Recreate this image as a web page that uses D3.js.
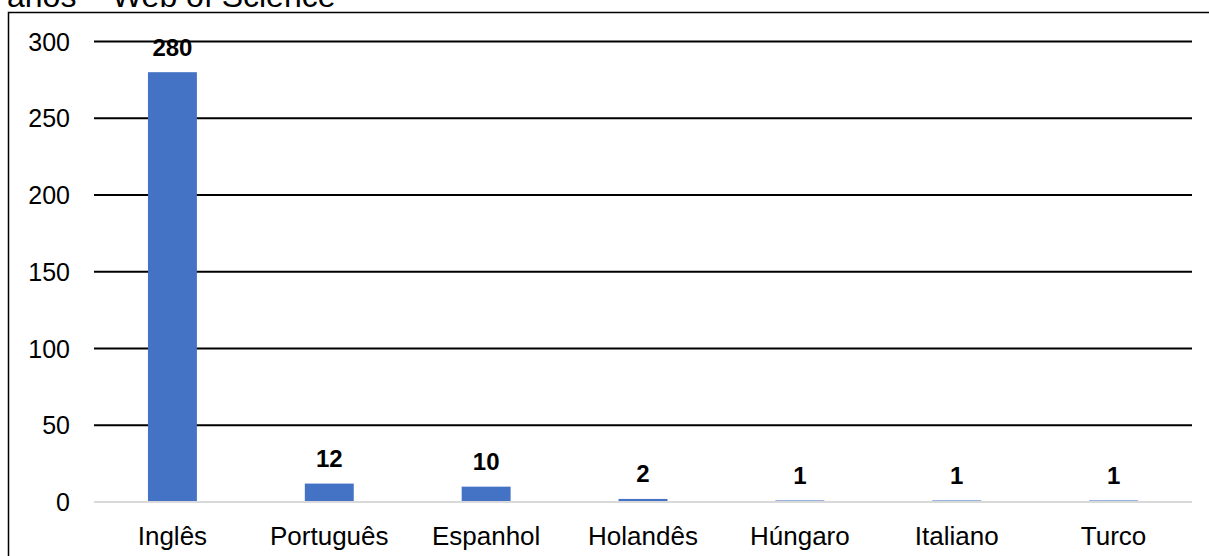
<!DOCTYPE html>
<html>
<head>
<meta charset="utf-8">
<script src="https://cdn.jsdelivr.net/npm/d3@7"></script>
<style>
  html, body { margin: 0; padding: 0; background: #fff; }
  svg { display: block; font-family: Arial, "Liberation Sans", sans-serif; }
</style>
</head>
<body>
<svg id="chart" width="1209" height="556"></svg>
<script>
const titleText = "anos – Web of Science";
const categories = ["Inglês", "Português", "Espanhol", "Holandês", "Húngaro", "Italiano", "Turco"];
const values = [280, 12, 10, 2, 1, 1, 1];
const yTicks = [0, 50, 100, 150, 200, 250, 300];

const svg = d3.select("#chart");

// cut-off title line
svg.append("text")
  .attr("x", 7).attr("y", 7)
  .attr("font-size", 32)
  .attr("fill", "#000")
  .text(titleText);

// outer frame
svg.append("rect")
  .attr("x", 8.5).attr("y", 12.5)
  .attr("width", 1260).attr("height", 600)
  .attr("fill", "none")
  .attr("stroke", "#000")
  .attr("stroke-width", 1.5);

const x = d3.scaleBand().domain(categories).range([94, 1192]).padding(0);
const y = d3.scaleLinear().domain([0, 300]).range([502, 41.5]);

// gridlines
svg.append("g").selectAll("line")
  .data(yTicks)
  .join("line")
  .attr("x1", 94).attr("x2", 1192)
  .attr("y1", d => y(d)).attr("y2", d => y(d))
  .attr("stroke", d => d === 0 ? "#d9d9d9" : "#000")
  .attr("stroke-width", 2);

// y tick labels
svg.append("g").selectAll("text")
  .data(yTicks)
  .join("text")
  .attr("x", 70)
  .attr("y", d => y(d))
  .attr("dy", "0.36em")
  .attr("text-anchor", "end")
  .attr("font-size", 25)
  .attr("fill", "#000")
  .text(d => d);

const barW = x.bandwidth() * 0.312;

// bars
svg.append("g").selectAll("rect")
  .data(values)
  .join("rect")
  .attr("x", (d, i) => x(categories[i]) + x.bandwidth() / 2 - barW / 2)
  .attr("width", barW)
  .attr("y", d => y(d))
  .attr("height", d => y(0) - y(d) - 1)
  .attr("fill", "#4472C4");

// value labels
svg.append("g").selectAll("text")
  .data(values)
  .join("text")
  .attr("x", (d, i) => x(categories[i]) + x.bandwidth() / 2)
  .attr("y", d => y(d) - 16.5)
  .attr("text-anchor", "middle")
  .attr("font-size", 24)
  .attr("font-weight", "bold")
  .attr("fill", "#000")
  .text(d => d);

// category labels
svg.append("g").selectAll("text")
  .data(categories)
  .join("text")
  .attr("x", d => x(d) + x.bandwidth() / 2)
  .attr("y", 545)
  .attr("text-anchor", "middle")
  .attr("font-size", 26)
  .attr("fill", "#000")
  .text(d => d);
</script>
</body>
</html>
